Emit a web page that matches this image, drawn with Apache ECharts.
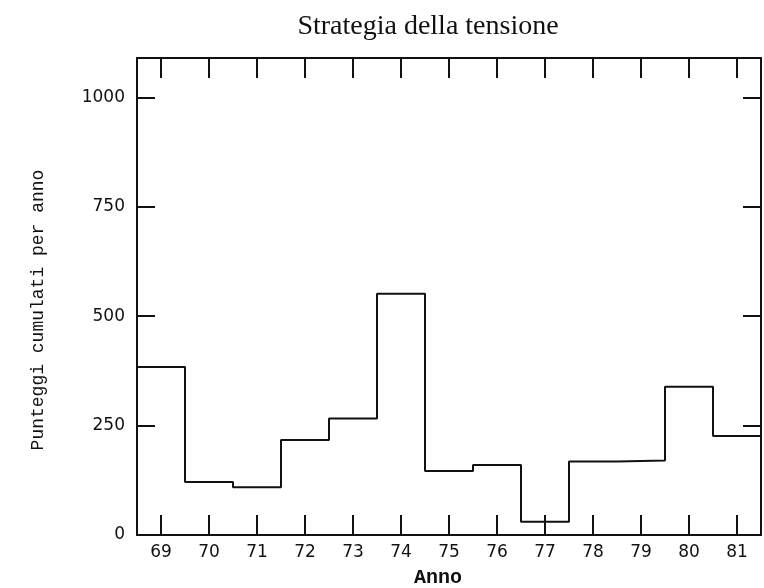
<!DOCTYPE html>
<html>
<head>
<meta charset="utf-8">
<script src="https://cdn.jsdelivr.net/npm/echarts@6/dist/echarts.min.js"></script>
<style>
  html, body { margin: 0; padding: 0; background: #fff; }
  #chart { width: 764px; height: 588px; }
</style>
</head>
<body>
<div id="chart"></div>
<script>
// Years (two-digit) and cumulative scores per year
const years = [69, 70, 71, 72, 73, 74, 75, 76, 77, 78, 79, 80, 81];
const scores = [384, 121, 109, 217, 266, 551, 146, 160, 30, 168, 170, 339, 226];
const yLabelValues = [0, 250, 500, 750, 1000];
const yTickValues = [250, 500, 750, 1000];

// Histogram outline: each year spans [year - 0.5, year + 0.5]
const stepData = [];
years.forEach((y, i) => {
  stepData.push([y - 0.5, scores[i]]);
  stepData.push([y + 0.5, scores[i]]);
});

const ink = '#111';
const lineW = 2;
const xMin = years[0] - 0.5, xMax = years[years.length - 1] + 0.5;
const yMax = 1090;

const chart = echarts.init(document.getElementById('chart'));
chart.setOption({
  animation: false,
  backgroundColor: '#fff',
  grid: { left: 137, right: 3, top: 58, bottom: 53, containLabel: false },
  xAxis: [
    {
      type: 'value', position: 'bottom', min: xMin, max: xMax,
      axisLine: { show: true, lineStyle: { color: ink, width: lineW } },
      axisTick: { show: true, inside: true, length: 20, customValues: years,
                  lineStyle: { color: ink, width: lineW } },
      axisLabel: { customValues: years, margin: 9, color: '#111',
                   fontFamily: 'DejaVu Sans', fontSize: 17 },
      splitLine: { show: false }
    },
    {
      type: 'value', position: 'top', min: xMin, max: xMax,
      axisLine: { show: true, onZero: false, lineStyle: { color: ink, width: lineW } },
      axisTick: { show: true, inside: true, length: 20, customValues: years,
                  lineStyle: { color: ink, width: lineW } },
      axisLabel: { show: false },
      splitLine: { show: false }
    }
  ],
  yAxis: [
    {
      type: 'value', position: 'left', min: 0, max: yMax,
      axisLine: { show: true, onZero: false, lineStyle: { color: ink, width: lineW } },
      axisTick: { show: true, inside: true, length: 18, customValues: yTickValues,
                  lineStyle: { color: ink, width: lineW } },
      axisLabel: { customValues: yLabelValues, margin: 12, color: '#111',
                   fontFamily: 'DejaVu Sans', fontSize: 17,
                   formatter: v => String(v) },
      splitLine: { show: false }
    },
    {
      type: 'value', position: 'right', min: 0, max: yMax,
      axisLine: { show: true, onZero: false, lineStyle: { color: ink, width: lineW } },
      axisTick: { show: true, inside: true, length: 18, customValues: yTickValues,
                  lineStyle: { color: ink, width: lineW } },
      axisLabel: { show: false },
      splitLine: { show: false }
    }
  ],
  series: [
    {
      type: 'line',
      xAxisIndex: 0, yAxisIndex: 0,
      data: stepData,
      symbol: 'none',
      lineStyle: { color: ink, width: lineW },
      clip: false
    }
  ],
  graphic: [
    {
      type: 'text', x: 428, y: 27,
      style: {
        text: 'Strategia della tensione',
        fontFamily: 'Liberation Serif', fontSize: 28, fill: '#111',
        textAlign: 'center', textVerticalAlign: 'middle'
      }
    },
    {
      type: 'text', x: 438, y: 578,
      style: {
        text: 'Anno', fontFamily: 'Liberation Mono', fontWeight: 'bold',
        fontSize: 20, fill: '#111', textAlign: 'center', textVerticalAlign: 'middle'
      }
    },
    {
      type: 'text', x: 38, y: 310, rotation: Math.PI / 2,
      style: {
        text: 'Punteggi cumulati per anno', fontFamily: 'Liberation Mono',
        fontSize: 18, fill: '#111', textAlign: 'center', textVerticalAlign: 'middle'
      }
    }
  ]
});
</script>
</body>
</html>
